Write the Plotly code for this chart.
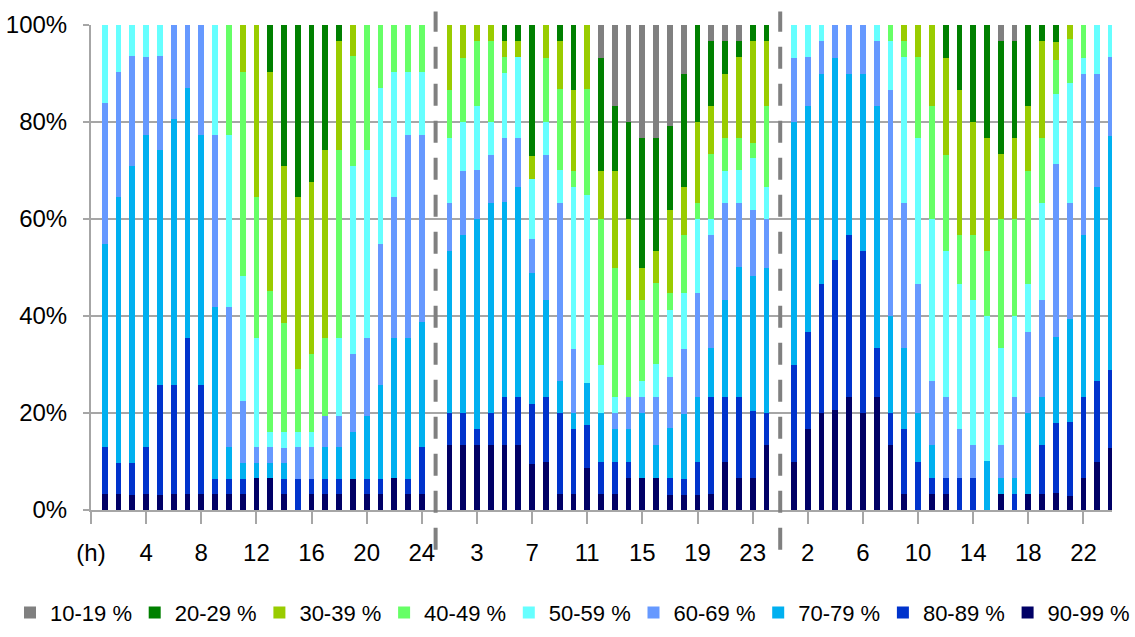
import plotly.graph_objects as go

# Legend names (bottom of stack first) and colours
series_names = ["90-99 %", "80-89 %", "70-79 %", "60-69 %", "50-59 %",
                "40-49 %", "30-39 %", "20-29 %", "10-19 %"]
series_colors = ["#000066", "#0033cc", "#00b0f0", "#6699ff", "#66ffff",
                 "#66ff66", "#99cc00", "#008000", "#808080"]
# first four go to the right half of the legend row
series_legend = ["legend2", "legend2", "legend2", "legend2", "legend",
                 "legend", "legend", "legend", "legend"]

hours = list(range(1, 25))
panel_offsets = [0, 25, 50]          # panel start slots; slots 25 and 50 hold the separators
tick_labels = ["(h)", "4", "8", "12", "16", "20", "24", "3", "7", "11", "15", "19",
               "23", "2", "6", "10", "14", "18", "22"]

# share (%) per hour, three panels of 24 hours each
s90 = [3.2, 3.2, 3.2, 3.2, 3.2, 3.2, 3.2, 3.2, 3.2, 3.2, 3.2, 6.5, 6.5, 3.2, 0.0, 3.2, 3.2, 3.2, 6.5, 3.2, 3.2, 6.5, 3.2, 3.2,
       13.3, 13.3, 13.3, 13.3, 13.3, 13.3, 9.5, 10.0, 3.3, 3.3, 8.7, 3.3, 3.3, 6.7, 6.7, 6.7, 3.1, 3.1, 3.1, 3.3, 10.0, 6.7, 6.7, 13.3,
       10.0, 16.7, 20.0, 20.6, 23.3, 20.0, 23.3, 13.3, 3.3, 0.0, 3.3, 3.3, 0.0, 0.0, 0.0, 3.3, 0.0, 3.3, 3.3, 3.6, 2.8, 6.7, 10.0, 12.7]
s80 = [9.7, 6.5, 6.5, 9.7, 22.6, 22.6, 32.3, 22.6, 3.2, 3.2, 3.2, 0.0, 0.0, 3.2, 6.5, 3.2, 3.2, 3.2, 0.0, 3.2, 3.2, 0.0, 3.2, 9.7,
       6.7, 6.7, 3.3, 6.7, 10.0, 10.0, 12.3, 13.3, 16.7, 13.3, 8.8, 6.7, 6.7, 3.3, 0.0, 0.0, 3.6, 3.2, 6.9, 20.0, 13.3, 16.7, 13.8, 6.7,
       20.0, 20.0, 26.7, 30.9, 33.3, 33.3, 10.0, 6.7, 13.3, 10.0, 3.3, 3.3, 6.7, 6.7, 0.0, 0.0, 3.3, 0.0, 10.0, 14.3, 15.4, 16.7, 16.7, 16.2]
s70 = [41.9, 54.8, 61.3, 64.5, 48.4, 54.8, 51.6, 51.6, 35.5, 6.5, 3.2, 3.2, 3.2, 3.2, 0.0, 0.0, 6.5, 6.5, 9.7, 12.9, 19.4, 29.0, 29.0, 25.8,
       33.3, 36.7, 43.3, 43.3, 40.0, 43.3, 27.0, 20.0, 6.7, 3.3, 8.6, 10.0, 6.7, 6.7, 13.3, 6.7, 10.3, 13.5, 13.4, 10.0, 20.0, 26.7, 27.8, 30.0,
       50.0, 46.7, 43.3, 41.6, 33.3, 36.7, 50.0, 20.0, 16.7, 10.0, 6.7, 0.0, 0.0, 0.0, 10.0, 3.3, 3.3, 16.7, 10.0, 17.9, 21.1, 33.3, 40.0, 48.3]
s60 = [29.0, 25.8, 22.6, 16.1, 19.4, 19.4, 12.9, 22.6, 35.5, 29.0, 12.9, 3.2, 3.2, 3.2, 6.5, 6.5, 6.5, 6.5, 16.1, 16.1, 29.0, 29.0, 41.9, 38.7,
       10.0, 13.3, 10.0, 10.0, 13.3, 10.0, 7.1, 30.0, 36.7, 13.3, 0.0, 0.0, 3.3, 6.7, 3.3, 10.0, 10.4, 13.5, 21.4, 23.3, 20.0, 13.3, 13.5, 10.0,
       13.3, 10.0, 6.7, 6.9, 10.0, 10.0, 13.3, 46.7, 30.0, 26.7, 13.3, 16.7, 10.0, 6.7, 0.0, 6.7, 16.7, 16.7, 20.0, 35.7, 24.1, 33.3, 23.3, 16.3]
s50 = [16.1, 9.7, 6.5, 6.5, 6.5, 0.0, 0.0, 0.0, 22.6, 35.5, 25.8, 22.6, 3.2, 3.2, 3.2, 3.2, 0.0, 16.1, 38.7, 38.7, 32.3, 25.8, 12.9, 12.9,
       13.3, 10.0, 13.3, 6.7, 13.3, 16.7, 12.3, 6.7, 6.7, 33.3, 38.8, 10.0, 3.3, 0.0, 3.3, 6.7, 13.8, 11.5, 15.2, 3.3, 6.7, 6.7, 10.7, 6.7,
       6.7, 6.7, 3.3, 0.0, 0.0, 0.0, 3.3, 10.0, 30.0, 30.0, 33.3, 30.0, 30.0, 30.0, 30.0, 20.0, 16.7, 10.0, 20.0, 14.3, 24.6, 3.3, 10.0, 6.5]
s40 = [0.0, 0.0, 0.0, 0.0, 0.0, 0.0, 0.0, 0.0, 0.0, 22.6, 41.9, 29.0, 29.0, 22.6, 12.9, 16.1, 16.1, 38.7, 22.6, 25.8, 12.9, 9.7, 9.7, 9.7,
       10.0, 13.3, 13.3, 16.7, 3.3, 0.0, 0.0, 13.3, 16.7, 3.3, 21.9, 30.0, 26.7, 20.0, 16.7, 16.7, 3.6, 11.9, 3.4, 13.3, 6.7, 6.7, 3.2, 16.7,
       0.0, 0.0, 0.0, 0.0, 0.0, 0.0, 0.0, 3.3, 3.3, 16.7, 23.3, 20.0, 10.0, 13.3, 13.3, 26.7, 20.0, 23.3, 13.3, 7.1, 9.1, 6.7, 0.0, 0.0]
s30 = [0.0, 0.0, 0.0, 0.0, 0.0, 0.0, 0.0, 0.0, 0.0, 0.0, 9.7, 35.5, 45.2, 32.3, 35.5, 35.5, 38.7, 22.6, 6.5, 0.0, 0.0, 0.0, 0.0, 0.0,
       13.3, 6.7, 3.3, 3.3, 3.3, 3.3, 4.7, 6.7, 10.0, 16.7, 13.2, 10.0, 20.0, 16.7, 6.7, 6.7, 17.0, 9.8, 16.6, 10.0, 13.3, 16.7, 21.0, 13.3,
       0.0, 0.0, 0.0, 0.0, 0.0, 0.0, 0.0, 0.0, 3.3, 6.7, 16.7, 20.0, 30.0, 23.3, 23.3, 13.3, 16.7, 13.3, 20.0, 3.6, 2.9, 0.0, 0.0, 0.0]
s20 = [0.0, 0.0, 0.0, 0.0, 0.0, 0.0, 0.0, 0.0, 0.0, 0.0, 0.0, 0.0, 9.7, 29.0, 35.5, 32.3, 25.8, 3.2, 0.0, 0.0, 0.0, 0.0, 0.0, 0.0,
       0.0, 0.0, 0.0, 0.0, 3.3, 3.3, 27.1, 0.0, 3.3, 13.3, 0.0, 23.3, 13.3, 20.0, 26.7, 23.3, 17.4, 23.3, 20.0, 13.3, 6.7, 3.3, 3.3, 3.3,
       0.0, 0.0, 0.0, 0.0, 0.0, 0.0, 0.0, 0.0, 0.0, 0.0, 0.0, 6.7, 13.3, 20.0, 23.3, 23.3, 20.0, 16.7, 3.3, 3.6, 0.0, 0.0, 0.0, 0.0]
s10 = [0.0, 0.0, 0.0, 0.0, 0.0, 0.0, 0.0, 0.0, 0.0, 0.0, 0.0, 0.0, 0.0, 0.0, 0.0, 0.0, 0.0, 0.0, 0.0, 0.0, 0.0, 0.0, 0.0, 0.0,
       0.0, 0.0, 0.0, 0.0, 0.0, 0.0, 0.0, 0.0, 0.0, 0.0, 0.0, 6.7, 16.7, 20.0, 23.3, 23.3, 20.8, 10.2, 0.0, 3.3, 3.3, 3.3, 0.0, 0.0,
       0.0, 0.0, 0.0, 0.0, 0.0, 0.0, 0.0, 0.0, 0.0, 0.0, 0.0, 0.0, 0.0, 0.0, 0.0, 3.3, 3.3, 0.0, 0.0, 0.0, 0.0, 0.0, 0.0, 0.0]

series_values = [s90, s80, s70, s60, s50, s40, s30, s20, s10]

FONT = "Liberation Sans, Arial, sans-serif"
GRID = "#a6a6a6"
ENTRY_STEP = 124.7            # legend item spacing in px

x_pos = [off + h for off in panel_offsets for h in hours]

fig = go.Figure()
for name, color, vals, lg in zip(series_names, series_colors, series_values, series_legend):
    fig.add_trace(go.Bar(x=x_pos, y=vals, name=name, legend=lg,
                         marker=dict(color=color, line=dict(width=0)), width=0.42))

for sep in panel_offsets[1:]:
    fig.add_shape(type="line", xref="x", yref="paper", x0=sep, x1=sep, y0=-0.082, y1=1.028,
                  line=dict(color="#808080", width=4, dash="22px,15px"))

legend_common = dict(orientation="h", xref="container", yref="container", y=0.038,
                     xanchor="left", yanchor="middle", traceorder="reversed",
                     font=dict(size=22, family=FONT, color="black"),
                     entrywidth=ENTRY_STEP - 45, entrywidthmode="pixels",
                     itemwidth=30, bgcolor="rgba(0,0,0,0)")

fig.update_layout(
    width=1135, height=637,
    barmode="stack", barnorm="percent", bargap=0,
    plot_bgcolor="white", paper_bgcolor="white",
    margin=dict(l=91, r=23, t=25, b=127, autoexpand=False),
    font=dict(family=FONT, size=24, color="black"),
    showlegend=True,
    legend=dict(x=10 / 1135, **legend_common),
    legend2=dict(x=(10 + 5 * ENTRY_STEP) / 1135, **legend_common),
)
fig.update_xaxes(range=[0, 74.07], tickmode="array", tickvals=[4 * i for i in range(len(tick_labels))],
                 ticktext=tick_labels, ticks="outside", ticklen=12, tickcolor=GRID, tickwidth=1.5,
                 showline=True, linecolor=GRID, linewidth=2, showgrid=False, zeroline=False,
                 automargin=False, tickfont=dict(size=24), ticklabelstandoff=8)
fig.update_yaxes(range=[0, 100], tickmode="array", tickvals=[0, 20, 40, 60, 80, 100],
                 ticktext=["0%", "20%", "40%", "60%", "80%", "100%"], ticks="outside", ticklen=6,
                 tickcolor=GRID, tickwidth=2, showline=True, linecolor=GRID, linewidth=2,
                 showgrid=True, gridcolor=GRID, gridwidth=2, zeroline=False,
                 automargin=False, tickfont=dict(size=24), ticklabelstandoff=11)

fig.write_html("out.html")
